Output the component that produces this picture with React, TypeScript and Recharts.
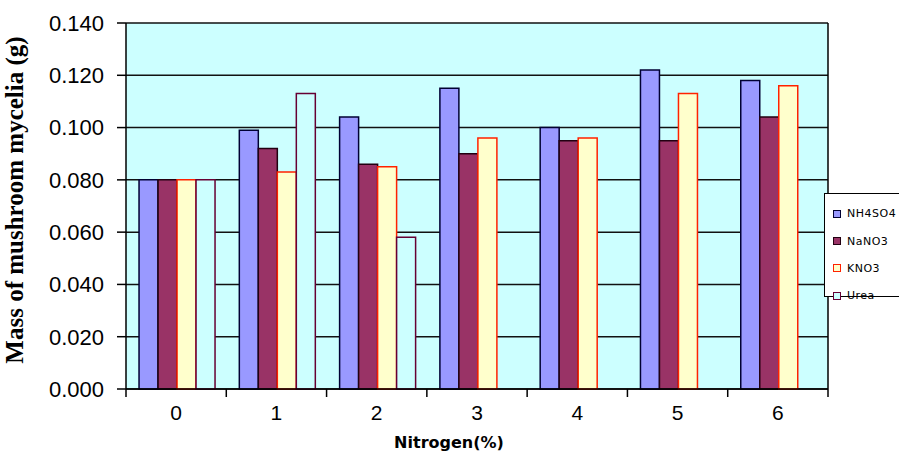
import { BarChart, Bar, XAxis, YAxis, CartesianGrid, Legend, Label } from 'recharts';

const nitrogen = ['0', '1', '2', '3', '4', '5', '6'];
const nh4so4 = [0.080, 0.099, 0.104, 0.115, 0.100, 0.122, 0.118];
const nano3 = [0.080, 0.092, 0.086, 0.090, 0.095, 0.095, 0.104];
const kno3 = [0.080, 0.083, 0.085, 0.096, 0.096, 0.113, 0.116];
const urea = [0.080, 0.113, 0.058, null, null, null, null];
const yTicks = [0, 0.02, 0.04, 0.06, 0.08, 0.1, 0.12, 0.14];

const series = [
  { key: 'NH4SO4', fill: '#9999FF', stroke: '#000033' },
  { key: 'NaNO3', fill: '#993366', stroke: '#220011' },
  { key: 'KNO3', fill: '#FFFFCC', stroke: '#FF2200' },
  { key: 'Urea', fill: '#CCFFFF', stroke: '#660033' },
];

const data = nitrogen.map((n, i) => ({
  n,
  NH4SO4: nh4so4[i],
  NaNO3: nano3[i],
  KNO3: kno3[i],
  Urea: urea[i],
}));

// category label in the middle, tick marks on the category boundaries
function NitrogenTick(props: any) {
  const { x, y, payload, index } = props;
  const half = payload.offset || 0;
  return (
    <g>
      {index === 0 && <line x1={x - half} x2={x - half} y1={y - 8} y2={y} stroke="#000" strokeWidth={1.5} />}
      <line x1={x + half} x2={x + half} y1={y - 8} y2={y} stroke="#000" strokeWidth={1.5} />
      <text x={x} y={y + 23} textAnchor="middle" fontSize={21} fontFamily="Liberation Sans, Arial" fill="#000">
        {payload.value}
      </text>
    </g>
  );
}

function LegendBox() {
  return (
    <div style={{ border: '1px solid #000', background: '#fff', width: 90, height: 104, boxSizing: 'border-box', paddingTop: 6 }}>
      {series.map((s) => (
        <div key={s.key} style={{ display: 'flex', alignItems: 'center', height: 27.4 }}>
          <span style={{ width: 6, height: 6, marginLeft: 8, background: s.fill, border: `1.5px solid ${s.stroke}` }} />
          <span style={{ marginLeft: 6, fontSize: 11, fontFamily: 'DejaVu Sans', color: '#000', letterSpacing: 0.5 }}>{s.key}</span>
        </div>
      ))}
    </div>
  );
}

export default function App() {
  return (
    <div style={{ position: 'absolute', left: 0, top: 0, width: 899, height: 460, overflow: 'hidden', background: '#fff' }}>
      <BarChart
        width={899}
        height={460}
        data={data}
        margin={{ top: 23, right: 70, left: 0, bottom: 0 }}
        barCategoryGap="13%"
        barGap={0}
      >
        <CartesianGrid vertical={false} stroke="#111" strokeWidth={1.5} fill="#CCFFFF" fillOpacity={1} />
        <XAxis
          dataKey="n"
          height={71}
          tickSize={8}
          tickMargin={0}
          tickLine={false}
          axisLine={{ stroke: '#000', strokeWidth: 1.5 }}
          tick={<NitrogenTick />}
          interval={0}
        >
          <Label
            value="Nitrogen(%)"
            position="insideBottom"
            offset={12}
            dx={-28}
            style={{ fontFamily: 'DejaVu Sans', fontWeight: 'bold', fontSize: 16, fill: '#000' }}
          />
        </XAxis>
        <YAxis
          width={126}
          domain={[0, 0.14]}
          ticks={yTicks}
          interval={0}
          tickFormatter={(v: number) => v.toFixed(3)}
          tickSize={9}
          tickMargin={13}
          tick={{ fontSize: 22, fontFamily: 'Liberation Sans, Arial', fill: '#000' }}
          tickLine={{ stroke: '#000', strokeWidth: 1.5 }}
          axisLine={{ stroke: '#000', strokeWidth: 1.5 }}
        >
          <Label
            value="Mass of mushroom mycelia (g)"
            angle={-90}
            position="insideLeft"
            offset={14}
            dy={-6}
            style={{ fontFamily: 'Liberation Serif, Times New Roman', fontWeight: 'bold', fontSize: 25, fill: '#000', textAnchor: 'middle' }}
          />
        </YAxis>
        <YAxis
          yAxisId="edge"
          orientation="right"
          width={1}
          domain={[0, 0.14]}
          tick={false}
          tickLine={false}
          axisLine={{ stroke: '#000', strokeWidth: 1.5 }}
        />
        {series.map((s) => (
          <Bar key={s.key} dataKey={s.key} fill={s.fill} stroke={s.stroke} strokeWidth={1.5} isAnimationActive={false} />
        ))}
        <Legend
          layout="vertical"
          align="center"
          verticalAlign="middle"
          content={<LegendBox />}
          wrapperStyle={{ left: 824, top: 193, width: 90 }}
        />
      </BarChart>
    </div>
  );
}
